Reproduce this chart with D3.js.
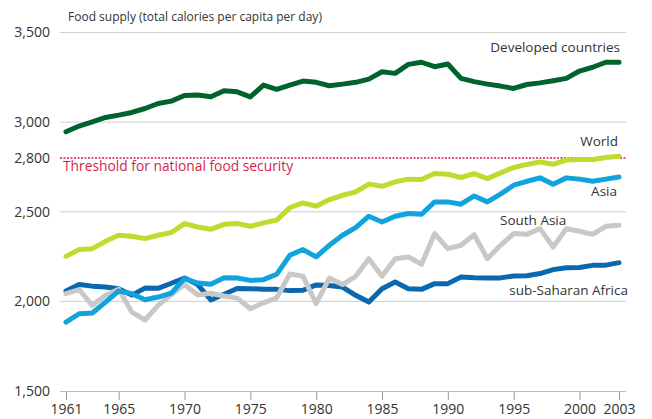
<!DOCTYPE html>
<html><head><meta charset="utf-8">
<script src="https://cdn.jsdelivr.net/npm/d3@7"></script>
<style>
html,body{margin:0;padding:0;background:#fff;}
svg{display:block;font-family:"Open Sans","Noto Sans",sans-serif;}
</style></head>
<body><div id="chart"></div>
<script>
const years = d3.range(1961, 2004);
const developed = [2946,2978,3002,3026,3039,3054,3076,3104,3117,3149,3151,3141,3175,3169,3141,3207,3183,3207,3229,3222,3203,3212,3222,3240,3281,3272,3322,3334,3309,3324,3244,3226,3212,3201,3188,3210,3219,3231,3244,3285,3306,3334,3334];
const world = [2251,2290,2294,2335,2369,2363,2350,2369,2384,2434,2415,2402,2430,2434,2419,2438,2453,2523,2549,2531,2568,2592,2611,2654,2642,2667,2682,2680,2713,2709,2691,2713,2685,2717,2747,2764,2778,2765,2788,2792,2792,2803,2810];
const asia = [1884,1931,1935,1996,2058,2043,2009,2024,2046,2127,2102,2095,2132,2130,2117,2121,2151,2257,2289,2248,2313,2369,2411,2475,2443,2475,2490,2486,2555,2555,2542,2588,2555,2598,2648,2670,2689,2654,2689,2682,2670,2682,2694];
const southAsia = [2043,2065,1978,2034,2068,1940,1896,1978,2038,2094,2036,2045,2030,2018,1959,1992,2020,2153,2141,1987,2130,2094,2140,2238,2140,2238,2248,2207,2378,2294,2313,2372,2238,2313,2378,2374,2406,2303,2406,2391,2374,2419,2425];
const ssAfrica = [2058,2094,2085,2080,2071,2035,2074,2073,2101,2130,2094,2008,2040,2072,2071,2067,2067,2060,2062,2092,2089,2080,2034,1996,2071,2108,2071,2067,2099,2099,2136,2132,2131,2131,2142,2143,2155,2177,2188,2189,2201,2202,2216];
const threshold = 2800;
const yTicks = [1500,2000,2500,2800,3000,3500];
const xTicks = [1961,1965,1970,1975,1980,1985,1990,1995,2000,2003];
const seriesList = [
  {name:"sub-Saharan Africa", values:ssAfrica, color:"#0a68b0"},
  {name:"South Asia", values:southAsia, color:"#c8c8c8"},
  {name:"Asia", values:asia, color:"#10a3de"},
  {name:"World", values:world, color:"#c4d92e"},
  {name:"Developed countries", values:developed, color:"#00632b"}
];

const W = 652, H = 419;
const svg = d3.select("#chart").append("svg").attr("width", W).attr("height", H);
const x = d3.scaleLinear().domain([1961, 2003]).range([66, 619]);
const y = d3.scaleLinear().domain([1500, 3500]).range([391, 32.5]);
const gridL = 60, gridR = 626;

// gridlines
svg.append("g").selectAll("line").data(yTicks.filter(v => v !== 1500 && v !== threshold)).join("line")
  .attr("x1", gridL).attr("x2", gridR).attr("y1", d => y(d)).attr("y2", d => y(d))
  .attr("stroke", "#cfcfcf").attr("stroke-width", 1);

// y tick labels
svg.append("g").selectAll("text").data(yTicks).join("text")
  .attr("x", 50).attr("y", d => y(d)).attr("dy", "0.35em").attr("text-anchor", "end")
  .attr("font-size", 14).attr("fill", "#333").text(d => d3.format(",")(d));

// x axis
const xAxis = d3.axisBottom(x).tickValues(xTicks).tickFormat(d3.format("d")).tickSize(9).tickSizeOuter(0);
const gx = svg.append("g").attr("transform", `translate(0,${y(1500)})`).call(xAxis);
gx.select(".domain").remove();
gx.append("line").attr("x1", gridL).attr("x2", gridR).attr("y1", 0.5).attr("y2", 0.5).attr("stroke", "#bdbdbd");
gx.selectAll(".tick line").attr("stroke", "#999");
gx.selectAll(".tick text").attr("font-size", 14).attr("fill", "#333").attr("font-family", '"Open Sans","Noto Sans",sans-serif')
  .attr("y", 23).attr("dy", 0);

// title
svg.append("text").attr("x", 68).attr("y", 20.5).attr("font-size", 12).attr("fill", "#333")
  .text("Food supply (total calories per capita per day)");

// threshold
svg.append("line").attr("x1", gridL).attr("x2", gridR).attr("y1", y(threshold)).attr("y2", y(threshold))
  .attr("stroke", "#d21f4c").attr("stroke-width", 1.5).attr("stroke-dasharray", "2,1.5");
svg.append("text").attr("x", 63).attr("y", 166).attr("dy", "0.35em").attr("font-size", 13.8).attr("fill", "#d21f4c")
  .text("Threshold for national food security");

// lines
const line = d3.line().x((d, i) => x(years[i])).y(d => y(d)).curve(d3.curveLinear);
svg.append("g").selectAll("path").data(seriesList).join("path")
  .attr("d", s => line(s.values)).attr("fill", "none").attr("stroke", s => s.color)
  .attr("stroke-width", 5).attr("stroke-linejoin", "round").attr("stroke-linecap", "round");

// series labels
const labels = [
  {t:"Developed countries", x:620, y:47, a:"end"},
  {t:"World", x:618, y:141.5, a:"end"},
  {t:"Asia", x:617, y:191.5, a:"end"},
  {t:"South Asia", x:500, y:220.5, a:"start"},
  {t:"sub-Saharan Africa", x:628, y:290, a:"end"}
];
svg.append("g").selectAll("text").data(labels).join("text")
  .attr("x", d => d.x).attr("y", d => d.y).attr("dy", "0.35em").attr("text-anchor", d => d.a)
  .attr("font-size", 13.5).attr("fill", "#333").text(d => d.t);
</script></body></html>
